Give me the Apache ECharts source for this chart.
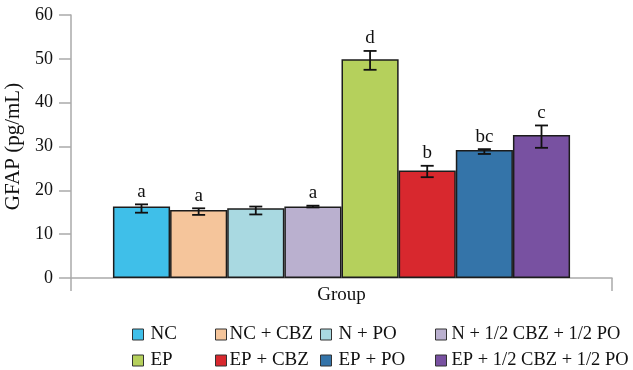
<!DOCTYPE html>
<html>
<head>
<meta charset="utf-8">
<script src="https://cdn.jsdelivr.net/npm/echarts@6/dist/echarts.min.js"></script>
<style>html,body{margin:0;padding:0;background:#fff;}#c{width:633px;height:370px;}</style>
</head>
<body>
<div id="c"></div>
<script>
const categories = ['Group'];
const groups = ['NC', 'NC + CBZ', 'N + PO', 'N + 1/2 CBZ + 1/2 PO', 'EP', 'EP + CBZ', 'EP + PO', 'EP + 1/2 CBZ + 1/2 PO'];
const means = [16.3, 15.5, 15.9, 16.3, 49.9, 24.5, 29.2, 32.6];
const errLow = [14.9, 14.4, 14.5, 16.1, 47.5, 23.0, 28.3, 29.7];
const errHigh = [16.8, 15.9, 16.3, 16.5, 51.8, 25.6, 29.4, 34.8];
const letters = ['a', 'a', '', 'a', 'd', 'b', 'bc', 'c'];
const colors = ['#3fbfe9', '#f5c59b', '#a9d9e1', '#bab0cf', '#b5d05c', '#d8282e', '#3474a9', '#7851a1'];
const yTicks = [0, 10, 20, 30, 40, 50, 60];

const GAP = 0.155;
const FONT = 'Liberation Serif';
const chart = echarts.init(document.getElementById('c'), null, {renderer: 'canvas'});

const barSeries = groups.map((g, i) => ({
  name: g,
  type: 'bar',
  data: [means[i]],
  barGap: 0,
  barCategoryGap: (GAP * 100) + '%',
  itemStyle: {color: colors[i], borderColor: '#1c1c1c', borderWidth: 1.5},
  emphasis: {disabled: true}
}));

const errSeries = {
  type: 'custom',
  z: 10,
  silent: true,
  encode: {x: 0, y: [1, 2]},
  data: groups.map((g, i) => [0, errLow[i], errHigh[i], i]),
  renderItem: function (params, api) {
    const i = api.value(3);
    const lo = api.coord([0, api.value(1)]);
    const hi = api.coord([0, api.value(2)]);
    const band = api.size([1, 0])[0];
    const inner = band * (1 - GAP);
    const bw = inner / groups.length;
    const cx = lo[0] - inner / 2 + bw * (i + 0.5);
    const cap = 6.5;
    const st = {stroke: '#111', lineWidth: 1.8};
    const children = [
      {type: 'line', shape: {x1: cx, y1: lo[1], x2: cx, y2: hi[1]}, style: st},
      {type: 'line', shape: {x1: cx - cap, y1: lo[1], x2: cx + cap, y2: lo[1]}, style: st},
      {type: 'line', shape: {x1: cx - cap, y1: hi[1], x2: cx + cap, y2: hi[1]}, style: st}
    ];
    if (letters[i]) {
      children.push({type: 'text', style: {text: letters[i], x: cx, y: hi[1] - 3, align: 'center', verticalAlign: 'bottom', fontFamily: FONT, fontSize: 19, fill: '#111'}});
    }
    return {type: 'group', children: children};
  }
};

const legendCols = [[0, 4], [1, 5], [2, 6], [3, 7]];
const legendLeft = [132, 215, 320, 435];
const legendTextPad = [2, -2, 2, 0];
const legendFont = [19, 19, 19, 18.5];
const legends = legendCols.map((col, k) => ({
  orient: 'vertical',
  left: legendLeft[k],
  top: 325,
  padding: 0,
  itemGap: 7,
  itemWidth: 11,
  itemHeight: 11,
  icon: 'rect',
  selectedMode: false,
  data: col.map(i => groups[i]),
  itemStyle: {borderColor: '#333', borderWidth: 1},
  textStyle: {fontFamily: FONT, fontSize: legendFont[k], lineHeight: 18, color: '#111', padding: [0, 0, 0, legendTextPad[k]]}
}));

chart.setOption({
  animation: false,
  backgroundColor: '#fff',
  color: colors,
  textStyle: {fontFamily: FONT},
  legend: legends,
  grid: {left: 71, right: 21, top: 15, bottom: 92, containLabel: false, outerBoundsMode: 'none'},
  xAxis: {
    type: 'category',
    data: categories,
    axisLine: {lineStyle: {color: '#aaaaaa', width: 1.5}},
    axisTick: {show: true, length: 13, lineStyle: {color: '#aaaaaa', width: 1.5}},
    axisLabel: {margin: 8, fontFamily: FONT, fontSize: 19, color: '#111'}
  },
  yAxis: {
    type: 'value',
    min: yTicks[0],
    max: yTicks[yTicks.length - 1],
    interval: 10,
    name: 'GFAP (pg/mL)',
    nameLocation: 'middle',
    nameGap: 46,
    nameTextStyle: {fontFamily: FONT, fontSize: 21, color: '#111'},
    axisLine: {show: true, lineStyle: {color: '#aaaaaa', width: 1.5}},
    axisTick: {show: true, length: 12, lineStyle: {color: '#aaaaaa', width: 1.5}},
    axisLabel: {margin: 18, fontFamily: FONT, fontSize: 18, color: '#111'},
    splitLine: {show: false}
  },
  series: barSeries.concat([errSeries])
});
</script>
</body>
</html>
